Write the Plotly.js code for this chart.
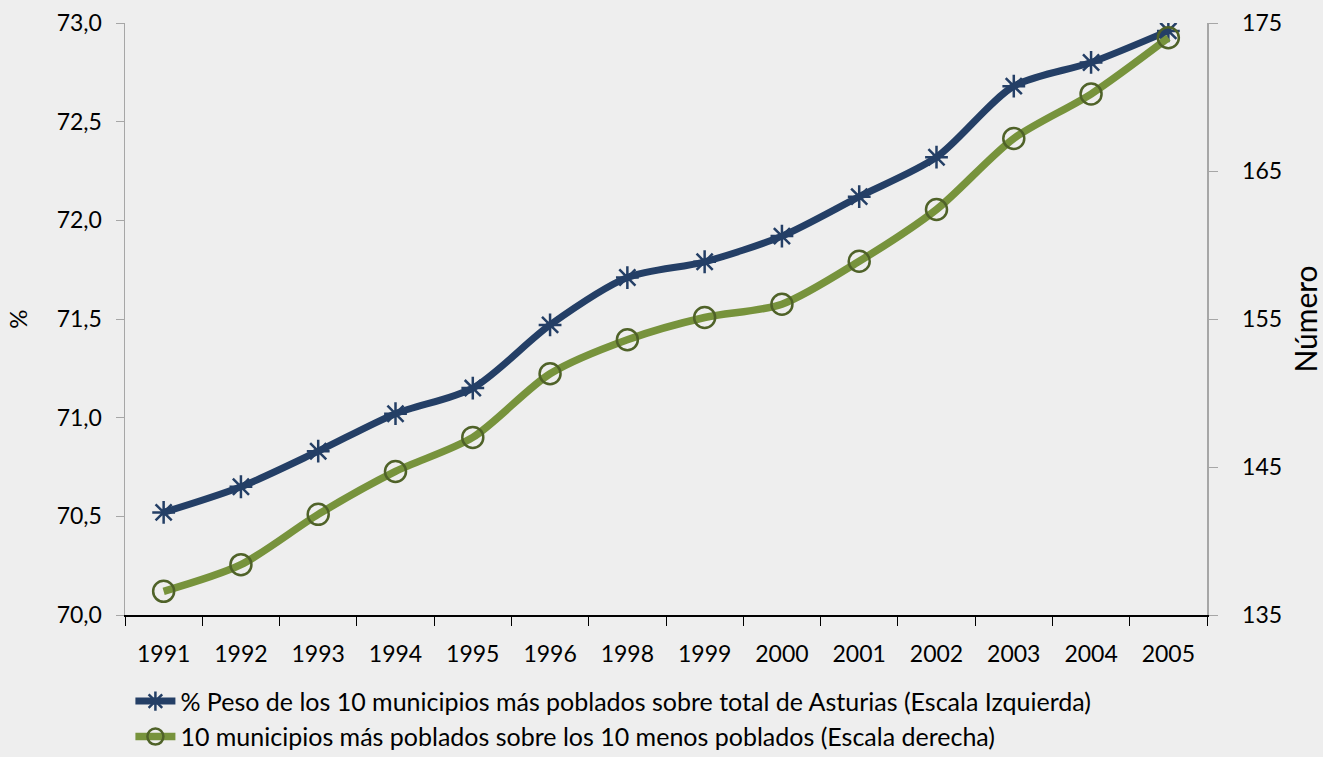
<!DOCTYPE html>
<html>
<head>
<meta charset="utf-8">
<script src="https://cdn.plot.ly/plotly-3.0.1.min.js"></script>
<style>html,body{margin:0;padding:0;background:#eeeeee;}#chart{width:1323px;height:757px;}</style>
</head>
<body>
<div id="chart"></div>
<script>
const years = ['1991','1992','1993','1994','1995','1996','1998','1999','2000','2001','2002','2003','2004','2005'];
const pesoPct = [70.52,70.65,70.83,71.02,71.15,71.47,71.71,71.79,71.92,72.12,72.32,72.68,72.80,72.96];
const ratioNumero = [136.6,138.4,141.8,144.7,147.0,151.3,153.6,155.1,156.0,158.9,162.4,167.2,170.2,174.0];
const leftTicks = [70.0,70.5,71.0,71.5,72.0,72.5,73.0];
const rightTicks = [135,145,155,165,175];
const nameBlue = '% Peso de los 10 municipios más poblados sobre total de Asturias (Escala Izquierda)';
const nameGreen = '10 municipios más poblados sobre los 10 menos poblados (Escala derecha)';

const FONT = 'Lato, "Open Sans", "DejaVu Sans", sans-serif';

const traces = [
  {
    x: years, y: pesoPct, name: nameBlue, type: 'scatter', mode: 'lines+markers',
    line: {color: '#243f66', width: 7, shape: 'spline', smoothing: 0.8},
    marker: {symbol: 'asterisk-open', size: 19, color: '#243f66', line: {color: '#243f66', width: 2.5}},
    yaxis: 'y'
  },
  {
    x: years, y: ratioNumero, name: nameGreen, type: 'scatter', mode: 'lines+markers',
    line: {color: '#77933c', width: 7.5, shape: 'spline', smoothing: 0.8},
    marker: {symbol: 'circle-open', size: 21, color: '#4f6228', line: {color: '#4f6228', width: 2.5}},
    yaxis: 'y2'
  }
];

const layout = {
  width: 1323, height: 757,
  paper_bgcolor: '#eeeeee', plot_bgcolor: 'rgba(0,0,0,0)',
  margin: {l: 125, r: 116, t: 23, b: 142, autoexpand: false},
  separators: ',.',
  font: {family: FONT, size: 23, color: '#000000'},
  showlegend: true,
  legend: {
    orientation: 'v', x: 0.005, xanchor: 'left', y: -0.107, yanchor: 'top',
    bgcolor: 'rgba(0,0,0,0)', font: {family: FONT, size: 25, color: '#000'},
    itemwidth: 40, tracegroupgap: 0
  },
  xaxis: {
    type: 'category', range: [-0.5, 13.5], tickson: 'boundaries', ticks: 'outside', ticklen: 9, tickcolor: '#000',
    showline: true, linecolor: '#000', linewidth: 1.5, showgrid: false, zeroline: false,
    tickfont: {family: FONT, size: 23, color: '#000'}, ticklabelstandoff: 18, automargin: false
  },
  yaxis: {
    range: [70, 73], tickvals: leftTicks, tickformat: '.1f',
    ticks: 'outside', ticklen: 8, tickcolor: '#a6a6a6',
    showline: true, linecolor: '#a6a6a6', linewidth: 1.5, showgrid: false, zeroline: false,
    tickfont: {family: FONT, size: 23, color: '#000'}, ticklabelstandoff: 9, automargin: false,
    title: {text: '%', font: {family: FONT, size: 24, color: '#000'}, standoff: 22}
  },
  yaxis2: {
    range: [135, 175], tickvals: rightTicks, overlaying: 'y', side: 'right',
    ticks: 'outside', ticklen: 9, tickcolor: '#a6a6a6',
    showline: true, linecolor: '#a6a6a6', linewidth: 1.5, showgrid: false, zeroline: false,
    tickfont: {family: FONT, size: 23, color: '#000'}, ticklabelstandoff: 20, automargin: false,
    title: {text: 'Número', font: {family: FONT, size: 30, color: '#000'}, standoff: 20}
  }
};

Plotly.newPlot('chart', traces, layout, {displayModeBar: false, staticPlot: true});
</script>
</body>
</html>
